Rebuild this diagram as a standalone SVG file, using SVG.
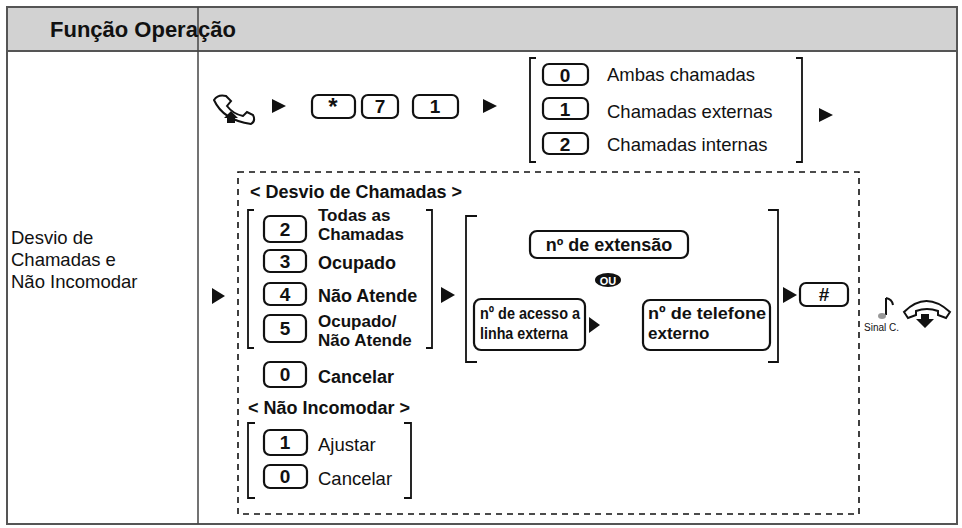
<svg xmlns="http://www.w3.org/2000/svg" width="962" height="528" viewBox="0 0 962 528">
<defs><style>
text{font-family:"Liberation Sans",Arial,sans-serif;fill:#111}
.k{fill:#fff;stroke:#111;stroke-width:2.2}
.kt{font-size:19px;font-weight:bold;text-anchor:middle}
.n{font-size:18.5px}
.b{font-size:18px;font-weight:bold}
.b2{font-size:17px;font-weight:bold}
.br{fill:none;stroke:#111;stroke-width:1.8}
.a{fill:#111}
</style></defs>
<rect x="0" y="0" width="962" height="528" fill="#fff"/>
<g id="table">
<rect x="7" y="7" width="950" height="44" fill="#d2d2d2"/>
<rect x="7" y="7" width="950" height="517" fill="none" stroke="#555" stroke-width="2"/>
<line x1="7" y1="51" x2="957" y2="51" stroke="#555" stroke-width="2"/>
<line x1="198" y1="7" x2="198" y2="524" stroke="#444" stroke-width="1.5"/>
<text x="50" y="37" style="font-size:22px;font-weight:bold">Função Operação</text>
<text x="11" y="244" class="n">Desvio de</text>
<text x="11" y="266" class="n">Chamadas e</text>
<text x="11" y="288" class="n">Não Incomodar</text>
</g>
<g id="offhook"><path d="M214 100 q4 -6 12 -4 l5 5 -4 5 q6 8 16 10 l4 -4 6 3 q3 6 -2 9 q-28 -4 -37 -24z" fill="#fff" stroke="#111" stroke-width="2"/><path d="M224 118 l7 -7 7 7 h-3 v5 h-8 v-5z" class="a"/></g>
<g id="connectors">
<path d="M272 99 l14 7 -14 7z" class="a"/>
<path d="M483 99 l14 7 -14 7z" class="a"/>
<path d="M819 108 l14 7 -14 7z" class="a"/>
<path d="M212 288 l13 8 -13 8z" class="a"/>
<path d="M441 287 l14 8 -14 8z" class="a"/>
<path d="M589 317 l11 8 -11 8z" class="a"/>
<path d="M783 287 l14 8 -14 8z" class="a"/>
</g>
<g id="seq">
<rect x="312" y="95" width="43" height="23" rx="6" class="k"/><text x="333" y="115" class="kt" style="font-size:24px">*</text>
<rect x="362" y="95" width="36" height="23" rx="6" class="k"/><text x="380" y="113" class="kt">7</text>
<rect x="413" y="95" width="45" height="23" rx="6" class="k"/><text x="435" y="113" class="kt">1</text>
</g>
<g id="choice1">
<path d="M536 58 h-6 v104 h6 M796 58 h6 v104 h-6" class="br"/>
<rect x="543" y="64" width="45" height="21" rx="6" class="k"/><text x="565" y="82" class="kt">0</text>
<rect x="543" y="98" width="45" height="21" rx="6" class="k"/><text x="565" y="116" class="kt">1</text>
<rect x="543" y="133" width="45" height="21" rx="6" class="k"/><text x="565" y="151" class="kt">2</text>
<text x="607" y="81" class="n">Ambas chamadas</text>
<text x="607" y="118" class="n">Chamadas externas</text>
<text x="607" y="151" class="n">Chamadas internas</text>
</g>
<rect id="dashbox" x="238" y="172" width="621" height="342" fill="none" stroke="#111" stroke-width="1.6" stroke-dasharray="6,5"/>
<g id="desvio">
<text x="250" y="198" class="b">&lt;  Desvio de Chamadas  &gt;</text>
<path d="M254 210 h-6 v138 h6 M426 210 h6 v138 h-6" class="br"/>
<rect x="264" y="216" width="42" height="26" rx="6" class="k"/><text x="285" y="236" class="kt">2</text>
<text x="318" y="221" class="b2">Todas as</text><text x="318" y="240" class="b2">Chamadas</text>
<rect x="264" y="250" width="42" height="22" rx="6" class="k"/><text x="285" y="268" class="kt">3</text>
<text x="318" y="269" class="b">Ocupado</text>
<rect x="264" y="283" width="42" height="22" rx="6" class="k"/><text x="285" y="301" class="kt">4</text>
<text x="318" y="302" class="b">Não Atende</text>
<rect x="264" y="315" width="42" height="27" rx="6" class="k"/><text x="285" y="335" class="kt">5</text>
<text x="318" y="327" class="b2">Ocupado/</text><text x="318" y="346" class="b2">Não Atende</text>
<rect x="264" y="362" width="42" height="25" rx="6" class="k"/><text x="285" y="381" class="kt">0</text>
<text x="318" y="383" class="b">Cancelar</text>
</g>
<g id="dest">
<path d="M477 216 h-11 v146 h11 M768 210 h10 v152 h-10" class="br"/>
<rect x="530" y="231" width="158" height="27" rx="7" class="k"/><text x="609" y="251" class="b" text-anchor="middle">nº de extensão</text>
<ellipse cx="608" cy="280" rx="13" ry="7" fill="#111"/><text x="608" y="285" text-anchor="middle" style="font-size:11px;font-weight:bold;fill:#fff">OU</text>
<rect x="474" y="299" width="111" height="51" rx="7" class="k"/>
<text x="480" y="319" class="b2" textLength="100" lengthAdjust="spacingAndGlyphs">nº de acesso a</text><text x="480" y="339" class="b2" textLength="88" lengthAdjust="spacingAndGlyphs">linha externa</text>
<rect x="643" y="300" width="127" height="50" rx="7" class="k"/>
<text x="648" y="319" class="b2" textLength="118" lengthAdjust="spacingAndGlyphs">nº de telefone</text><text x="648" y="339" class="b2">externo</text>
<rect x="800" y="283" width="48" height="23" rx="6" class="k"/><text x="824" y="301" class="kt">#</text>
</g>
<g id="onhook">
<path d="M886 298 v17 M886 298 q6 1 7 7" stroke="#111" stroke-width="2" fill="none"/><ellipse cx="882" cy="316" rx="4" ry="3" fill="#999"/>
<path d="M904 312 q22 -22 46 0 l-4 6 -8 -3 v-4 q-11 -4 -22 0 v4 l-8 3z" fill="#fff" stroke="#111" stroke-width="2"/>
<path d="M921 314 h8 v5 h5 l-9 9 -9 -9 h5z" class="a"/>
<text x="864" y="331" style="font-size:10px">Sinal C.</text>
</g>
<g id="dnd">
<text x="248" y="414" class="b">&lt; Não Incomodar &gt;</text>
<path d="M255 423 h-7 v75 h7 M404 423 h7 v75 h-7" class="br"/>
<rect x="264" y="430" width="43" height="25" rx="6" class="k"/><text x="285" y="449" class="kt">1</text>
<text x="318" y="451" class="n">Ajustar</text>
<rect x="264" y="465" width="43" height="23" rx="6" class="k"/><text x="285" y="483" class="kt">0</text>
<text x="318" y="485" class="n">Cancelar</text>
</g>
</svg>
